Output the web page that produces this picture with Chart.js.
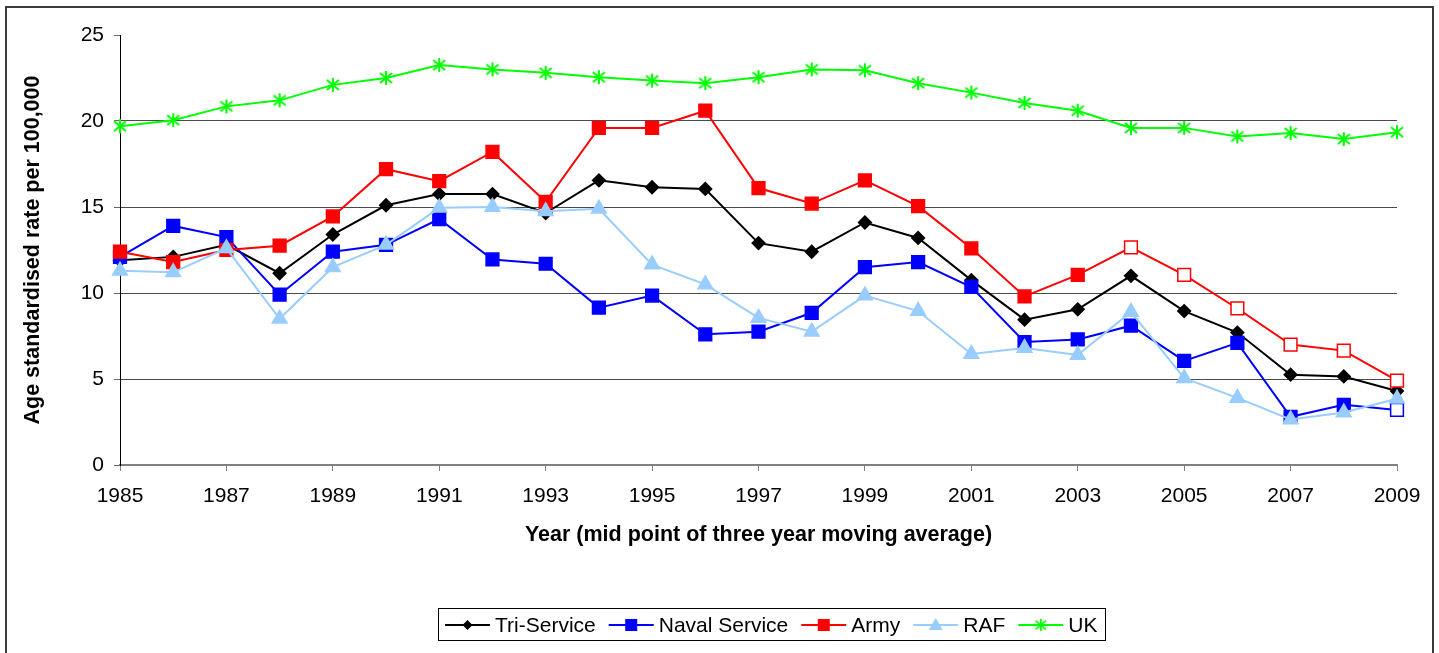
<!DOCTYPE html>
<html>
<head>
<meta charset="utf-8">
<script src="https://cdn.jsdelivr.net/npm/chart.js@4"></script>
<style>
  body { margin: 0; background: #fff; }
  #wrap { position: relative; width: 1439px; height: 653px; }
</style>
</head>
<body>
<div id="wrap"><canvas id="rateChart"></canvas></div>
<script>
// years (mid point of three year moving average)
const years = ['1985','1986','1987','1988','1989','1990','1991','1992','1993','1994','1995','1996',
  '1997','1998','1999','2000','2001','2002','2003','2004','2005','2006','2007','2008','2009'];

const triService = [11.9, 12.1, 12.8, 11.15, 13.4, 15.1, 15.75, 15.75, 14.65, 16.55, 16.15, 16.05,
  12.9, 12.4, 14.1, 13.2, 10.75, 8.45, 9.05, 11.0, 8.95, 7.7, 5.25, 5.15, 4.3];
const navalService = [12.1, 13.9, 13.25, 9.9, 12.4, 12.8, 14.3, 11.95, 11.7, 9.15, 9.85, 7.6,
  7.75, 8.85, 11.5, 11.8, 10.35, 7.15, 7.3, 8.1, 6.05, 7.1, 2.8, 3.5, 3.2];
const army = [12.4, 11.8, 12.5, 12.75, 14.45, 17.2, 16.5, 18.2, 15.3, 19.6, 19.6, 20.6,
  16.1, 15.2, 16.55, 15.05, 12.6, 9.8, 11.05, 12.65, 11.05, 9.1, 7.0, 6.65, 4.9];
const raf = [11.3, 11.2, 12.6, 8.5, 11.5, 12.8, 14.95, 15.0, 14.75, 14.9, 11.65, 10.5,
  8.55, 7.75, 9.85, 8.95, 6.45, 6.8, 6.4, 8.9, 5.05, 3.9, 2.65, 3.05, 3.85];
const uk = [19.7, 20.05, 20.85, 21.2, 22.1, 22.5, 23.25, 23.0, 22.8, 22.55, 22.35, 22.2,
  22.55, 23.0, 22.95, 22.2, 21.65, 21.05, 20.6, 19.6, 19.6, 19.1, 19.3, 18.95, 19.35];

// points shown as open markers (provisional figures)
const armyOpenFrom = '2004';
const navalOpenFrom = '2009';

const yTicks = [0, 5, 10, 15, 20, 25];

// asterisk marker like Excel's star
function makeStar(color) {
  const c = document.createElement('canvas');
  c.width = 16; c.height = 16;
  const g = c.getContext('2d');
  g.strokeStyle = color;
  g.lineWidth = 2;
  g.beginPath();
  g.moveTo(8, 1); g.lineTo(8, 15);
  g.moveTo(2, 3); g.lineTo(14, 13);
  g.moveTo(14, 3); g.lineTo(2, 13);
  g.stroke();
  return c;
}
const ukStar = makeStar('#00ff00');

function fills(color, openFrom) {
  const start = openFrom ? years.indexOf(openFrom) : years.length;
  return years.map((y, i) => i >= start ? '#ffffff' : color);
}

// legend drawn like the Excel one: short line with marker in the middle
const lineLegend = {
  id: 'lineLegend',
  afterDraw(chart) {
    const ctx = chart.ctx;
    ctx.save();
    // outer frame
    ctx.strokeStyle = '#3a3a3a';
    ctx.lineWidth = 2;
    ctx.strokeRect(6, 7, 1427, 680);

    ctx.strokeStyle = '#000';
    ctx.lineWidth = 1;
    ctx.strokeRect(438.5, 608.5, 667, 32);

    ctx.font = '21px "Liberation Sans", Arial, sans-serif';
    ctx.textBaseline = 'middle';
    let x = 445;
    const y = 625;
    chart.data.datasets.forEach(ds => {
      ctx.strokeStyle = ds.borderColor;
      ctx.lineWidth = 2;
      ctx.beginPath();
      ctx.moveTo(x, y);
      ctx.lineTo(x + 45, y);
      ctx.stroke();
      const mx = x + 22.5;
      ctx.fillStyle = ds.borderColor;
      if (ds.pointStyle === 'rectRot') {
        ctx.beginPath();
        ctx.moveTo(mx, y - 5); ctx.lineTo(mx + 5, y); ctx.lineTo(mx, y + 5); ctx.lineTo(mx - 5, y);
        ctx.closePath(); ctx.fill();
      } else if (ds.pointStyle === 'rect') {
        ctx.fillRect(mx - 6, y - 6, 12, 12);
      } else if (ds.pointStyle === 'triangle') {
        ctx.beginPath();
        ctx.moveTo(mx, y - 7); ctx.lineTo(mx + 7, y + 5); ctx.lineTo(mx - 7, y + 5);
        ctx.closePath(); ctx.fill();
      } else {
        ctx.drawImage(ds.pointStyle, mx - 7, y - 7, 14, 14);
      }
      x += 50;
      ctx.fillStyle = '#000';
      ctx.fillText(ds.label, x, y + 1);
      x += ctx.measureText(ds.label).width + 13;
    });
    ctx.restore();
  }
};

const tickFont = { family: '"Liberation Sans", Arial, sans-serif', size: 21 };
const titleFont = { family: '"Liberation Sans", Arial, sans-serif', size: 21.5, weight: 'bold' };

new Chart(document.getElementById('rateChart'), {
  type: 'line',
  data: {
    labels: years,
    datasets: [
      { label: 'Tri-Service', data: triService, borderColor: '#000000', backgroundColor: '#000000',
        pointStyle: 'rectRot', pointRadius: 6, order: 5 },
      { label: 'Naval Service', data: navalService, borderColor: '#0000ff',
        pointBackgroundColor: fills('#0000ff', navalOpenFrom), pointBorderColor: '#0000ff',
        pointStyle: 'rect', pointRadius: 9, pointBorderWidth: 1.5, order: 4 },
      { label: 'Army', data: army, borderColor: '#ff0000',
        pointBackgroundColor: fills('#ff0000', armyOpenFrom), pointBorderColor: '#ff0000',
        pointStyle: 'rect', pointRadius: 9, pointBorderWidth: 1.5, order: 3 },
      { label: 'RAF', data: raf, borderColor: '#99ccff', backgroundColor: '#99ccff',
        pointStyle: 'triangle', pointRadius: 8, order: 2 },
      { label: 'UK', data: uk, borderColor: '#00ff00', backgroundColor: '#00ff00',
        pointStyle: ukStar, order: 1 }
    ].map(ds => Object.assign({ borderWidth: 2, tension: 0, clip: false, pointHoverRadius: ds.pointRadius }, ds))
  },
  options: {
    responsive: true,
    maintainAspectRatio: false,
    animation: false,
    layout: { padding: { left: 0, right: 42, top: 35, bottom: 105 } },
    plugins: {
      legend: { display: false },
      tooltip: { enabled: false }
    },
    scales: {
      x: {
        offset: false,
        afterFit(scale) { scale.height = 83; },
        border: { color: '#808080', width: 2 },
        grid: {
          drawOnChartArea: false,
          tickLength: 6,
          tickWidth: 1,
          tickColor: ctx => ctx.index % 2 === 0 ? '#808080' : 'transparent'
        },
        ticks: {
          autoSkip: false,
          maxRotation: 0,
          padding: 13,
          color: '#000',
          font: tickFont,
          callback(value, index) { return index % 2 === 0 ? this.getLabelForValue(value) : ''; }
        },
        title: {
          display: true,
          text: 'Year (mid point of three year moving average)',
          color: '#000',
          font: titleFont,
          padding: { top: 0, bottom: 0 }
        }
      },
      y: {
        min: yTicks[0],
        max: yTicks[yTicks.length - 1],
        afterFit(scale) { scale.width = 120; },
        afterBuildTicks(scale) { scale.ticks = yTicks.map(v => ({ value: v })); },
        border: { color: '#000', width: 1 },
        grid: {
          color: ctx => (ctx.tick && (ctx.tick.value === 25 || ctx.tick.value === 0)) ? 'transparent' : '#4a4a4a',
          tickColor: '#666',
          tickLength: 6,
          lineWidth: 1
        },
        ticks: { color: '#000', font: tickFont, padding: 10 },
        title: {
          display: true,
          text: 'Age standardised rate per 100,000',
          color: '#000',
          font: titleFont,
          padding: { top: 20, bottom: 0 }
        }
      }
    }
  },
  plugins: [lineLegend]
});
</script>
</body>
</html>
